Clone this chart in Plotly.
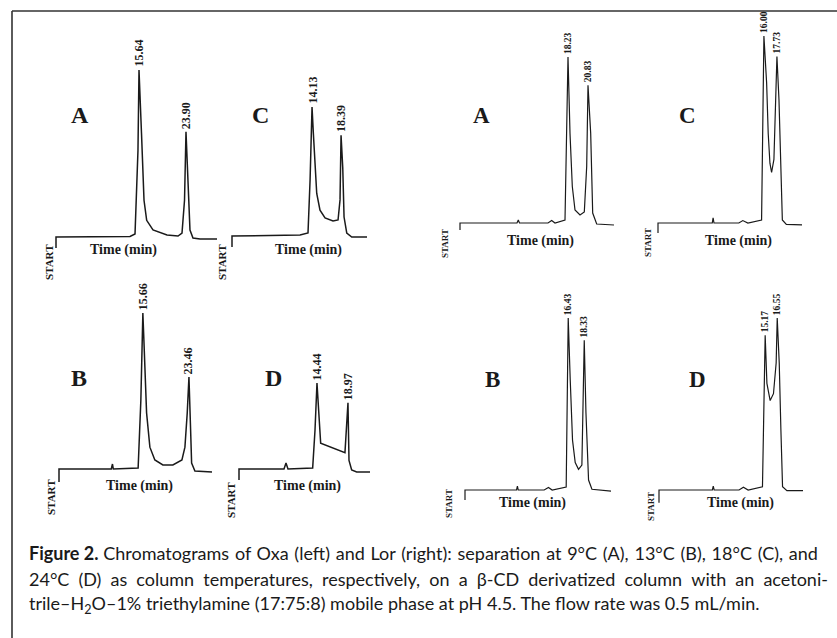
import plotly.graph_objects as go

W, H = 837, 638

# ---------------- data (time in min, signal in % of tallest peak) ----------------
# Oxa (left), 9 C (A)
oxa_A_time = [1.05, 1.05, 14.06, 14.94, 15.46, 15.64, 16.08, 16.52, 16.99, 18.10, 20.56, 22.5, 23.2, 23.64, 23.90, 24.30, 24.60, 25.13, 26.36, 29.35]
oxa_A_signal = [-6.6, 0, 0.3, 1.8, 52, 100, 62, 22, 10, 4.2, 1.2, 0.6, 2.4, 22, 63, 22, 4.2, -0.6, -1.2, -1.2]
oxa_A_peaks = [15.64, 23.90]

# Oxa (left), 18 C (C)
oxa_C_time = [2.38, 2.38, 12.37, 13.54, 13.84, 14.13, 14.32, 14.57, 14.82, 15.30, 16.04, 17.21, 17.95, 18.24, 18.39, 18.64, 18.83, 19.23, 19.96, 22.2]
oxa_C_signal = [-8.5, 0, 0.8, 2.3, 43, 100, 80, 53, 33, 20, 14, 11.6, 12.4, 28, 78, 53, 14.7, 2.3, -0.8, -0.8]
oxa_C_peaks = [14.13, 18.39]

# Oxa (left), 13 C (B)
oxa_B_time = [1.47, 1.47, 10.32, 10.52, 10.66, 14.86, 15.32, 15.66, 15.88, 16.29, 16.85, 17.69, 19.05, 20.74, 22.27, 22.78, 23.17, 23.46, 23.74, 23.91, 24.47, 27.36]
oxa_B_signal = [-8.3, 0, 0, 3.2, 0, 0.6, 44, 100, 78, 36, 14, 5.8, 2.6, 2.6, 5.8, 14, 36, 59, 25, 3.8, -1.3, -1.9]
oxa_B_peaks = [15.66, 23.46]

# Oxa (left), 24 C (D)
oxa_D_time = [3.04, 3.04, 9.62, 9.91, 10.2, 13.81, 14.15, 14.44, 14.98, 16.34, 17.80, 18.53, 18.97, 19.12, 19.51, 20.24, 22.19]
oxa_D_signal = [-12.8, 0, 0, 7, 0, 1.2, 45, 100, 30, 26, 22, 19, 77, 10, -1.2, -3.5, -3.5]
oxa_D_peaks = [14.44, 18.97]

# Lor (right), 9 C (A)
lor_A_time = [4.19, 4.19, 11.6, 11.77, 11.92, 15.63, 16.11, 16.54, 17.84, 18.23, 18.49, 18.79, 19.14, 19.79, 20.35, 20.66, 20.83, 21.18, 21.44, 21.96, 24.21]
lor_A_signal = [-4.2, 0, 0, 1.8, 0, 0, 1.5, 0, 1.8, 100, 54, 22, 7.8, 4.8, 6.6, 34, 83, 54, 6, -0.6, -1.2]
lor_A_peaks = [18.23, 20.83]

# Lor (right), 18 C (C)
lor_C_time = [1.93, 1.93, 9.14, 9.25, 9.37, 12.67, 13.20, 13.87, 15.69, 16.00, 16.36, 16.57, 16.80, 17.02, 17.33, 17.56, 17.73, 18.0, 18.22, 18.45, 18.98, 21.06]
lor_C_signal = [-5.3, 0, 0, 2.7, 0, 0, 1.3, 0, 1.6, 100, 75, 48, 32, 27, 34, 66, 89, 66, 30, 1.6, -0.7, -1]
lor_C_peaks = [16.00, 17.73]

# Lor (right), 13 C (B)
lor_B_time = [4.2, 4.2, 10.31, 10.41, 10.51, 13.58, 14.09, 14.53, 16.19, 16.43, 16.67, 16.94, 17.26, 17.65, 18.05, 18.25, 18.33, 18.53, 18.84, 19.24, 21.5]
lor_B_signal = [-5.8, 0, 0, 2.3, 0, 0, 1.5, 0, 1.7, 100, 64, 29, 16, 12, 14.5, 64, 87, 45, 5.8, 0.4, -0.6]
lor_B_peaks = [16.43, 18.33]

# Lor (right), 24 C (D)
lor_D_time = [3.02, 3.02, 9.13, 9.23, 9.33, 12.18, 12.68, 13.22, 14.86, 14.97, 15.17, 15.37, 15.74, 16.12, 16.43, 16.55, 16.78, 16.97, 17.16, 17.66, 19.5]
lor_D_signal = [-7.4, 0, 0, 2.3, 0, 0, 1.6, 0, 1.9, 45, 90, 62, 52, 56, 74, 100, 74, 35, 1.9, -0.4, -0.4]
lor_D_peaks = [15.17, 16.55]

panel_letters = ["A", "C", "B", "D", "A", "C", "B", "D"]
axis_label = "Time (min)"
start_label = "START"

caption_line1_bold = "Figure 2."
caption_line1_words = ["Chromatograms", "of", "Oxa", "(left)", "and", "Lor", "(right):", "separation",
                       "at", "9°C", "(A),", "13°C", "(B),", "18°C", "(C),", "and"]
caption_line2_words = ["24°C", "(D)", "as", "column", "temperatures,", "respectively,", "on", "a", "β-CD",
                       "derivatized", "column", "with", "an", "acetoni-"]
caption_line3 = "trile–H<sub>2</sub>O–1% triethylamine (17:75:8) mobile phase at pH 4.5. The flow rate was 0.5 mL/min."

series = [
    (oxa_A_time, oxa_A_signal, oxa_A_peaks),
    (oxa_C_time, oxa_C_signal, oxa_C_peaks),
    (oxa_B_time, oxa_B_signal, oxa_B_peaks),
    (oxa_D_time, oxa_D_signal, oxa_D_peaks),
    (lor_A_time, lor_A_signal, lor_A_peaks),
    (lor_C_time, lor_C_signal, lor_C_peaks),
    (lor_B_time, lor_B_signal, lor_B_peaks),
    (lor_D_time, lor_D_signal, lor_D_peaks),
]

# ---------------- layout (pixel boxes) ----------------
# (x of first sample, x of last sample, y of zero signal, y of 100 %)
boxes = [
    (56, 217, 237, 70),
    (232, 367, 236, 107),
    (59, 212, 469, 313),
    (239, 370, 469, 383),
    (460, 614, 223, 57),
    (658, 802, 223, 36),
    (465, 611, 490, 318),
    (659, 803, 490, 318),
]
letter_pos = [(80, 115), (260, 115), (79, 378), (273, 378),
              (482, 115), (687, 115), (492, 379), (697, 379)]
time_pos = [(123, 250), (308, 250), (139, 486), (307, 486),
            (540, 241), (738, 241), (532, 503), (740, 503)]
start_pos = [(49, 262), (222, 262), (51, 497), (231, 500),
             (445, 243), (648, 243), (449, 504), (651, 507)]
caption_x = 27
caption_y = [553, 579, 604]

SERIF = "Liberation Serif, Times New Roman, serif"
SANS = "Lato, Liberation Sans, sans-serif"
INK = "#1a1a1a"

# justified lines: widen word gaps slightly
GAP1 = " \u200a"
GAP2 = " \u2005"


def px(x):
    return x / W


def py(y):
    return 1 - y / H


fig = go.Figure()
annotations = []
YMIN, YMAX = -15, 112

for i, ((t, s, peaks), (xs, xe, yb, yt)) in enumerate(zip(series, boxes), start=1):
    left = i <= 4
    xa = f"x{i}" if i > 1 else "x"
    ya = f"y{i}" if i > 1 else "y"
    fig.add_trace(go.Scatter(x=t, y=s, mode="lines", xaxis=xa, yaxis=ya,
                             line=dict(color=INK, width=1.5 if left else 1.2),
                             hoverinfo="skip", showlegend=False))
    ppm = (xe - xs) / (t[-1] - t[0])
    pad = 5
    xr = [t[0] - pad / ppm, t[-1] + pad / ppm]
    xd = [px(xs - pad), px(xe + pad)]
    span = yb - yt
    ybot = yb - YMIN / 100 * span
    ytop = yb - YMAX / 100 * span
    yd = [py(ybot), max(0.0, min(1.0, py(ytop)))]
    suffix = "" if i == 1 else str(i)
    fig.update_layout(**{
        f"xaxis{suffix}": dict(domain=xd, range=xr, visible=False, anchor=ya, fixedrange=True),
        f"yaxis{suffix}": dict(domain=yd, range=[YMIN, YMAX], visible=False, anchor=xa, fixedrange=True),
    })
    for p in peaks:
        idx = t.index(p)
        annotations.append(dict(
            x=p, y=s[idx], xref=xa, yref=ya, text=f"{p:.2f}", textangle=-90,
            showarrow=False, xanchor="center", yanchor="bottom", yshift=1,
            font=dict(family=SERIF, size=12 if left else 9.5, color=INK, weight="bold")))

for i in range(8):
    left = i < 4
    lx, ly = letter_pos[i]
    annotations.append(dict(x=px(lx), y=py(ly), xref="paper", yref="paper", text=panel_letters[i],
                            showarrow=False, xanchor="center", yanchor="middle",
                            font=dict(family=SERIF, size=24 if left else 23, color=INK, weight="bold")))
    tx, ty = time_pos[i]
    annotations.append(dict(x=px(tx), y=py(ty), xref="paper", yref="paper", text=axis_label,
                            showarrow=False, xanchor="center", yanchor="middle",
                            font=dict(family=SERIF, size=14, color=INK, weight="bold")))
    sx, sy = start_pos[i]
    annotations.append(dict(x=px(sx), y=py(sy), xref="paper", yref="paper", text=start_label,
                            textangle=-90, showarrow=False, xanchor="center", yanchor="middle",
                            font=dict(family=SERIF, size=11 if left else 9, color=INK, weight="bold")))

caption_lines = [
    f"<b>{caption_line1_bold}</b> " + GAP1.join(caption_line1_words),
    GAP2.join(caption_line2_words),
    caption_line3,
]
for line, cy in zip(caption_lines, caption_y):
    annotations.append(dict(x=px(caption_x), y=py(cy), xref="paper", yref="paper", text=line,
                            showarrow=False, xanchor="left", yanchor="middle", align="left",
                            font=dict(family=SANS, size=18, color=INK)))

shapes = [
    dict(type="line", xref="paper", yref="paper", x0=px(12), x1=1.0, y0=py(11), y1=py(11),
         line=dict(color="#333333", width=1.6)),
    dict(type="line", xref="paper", yref="paper", x0=px(12), x1=px(12), y0=py(11), y1=0.0,
         line=dict(color="#333333", width=1.6)),
]

fig.update_layout(width=W, height=H, margin=dict(l=0, r=0, t=0, b=0),
                  paper_bgcolor="white", plot_bgcolor="rgba(0,0,0,0)",
                  annotations=annotations, shapes=shapes, showlegend=False)

fig.write_html("out.html", config={"displayModeBar": False},
               post_script="document.body.style.margin='0px';document.body.style.overflow='hidden';")
